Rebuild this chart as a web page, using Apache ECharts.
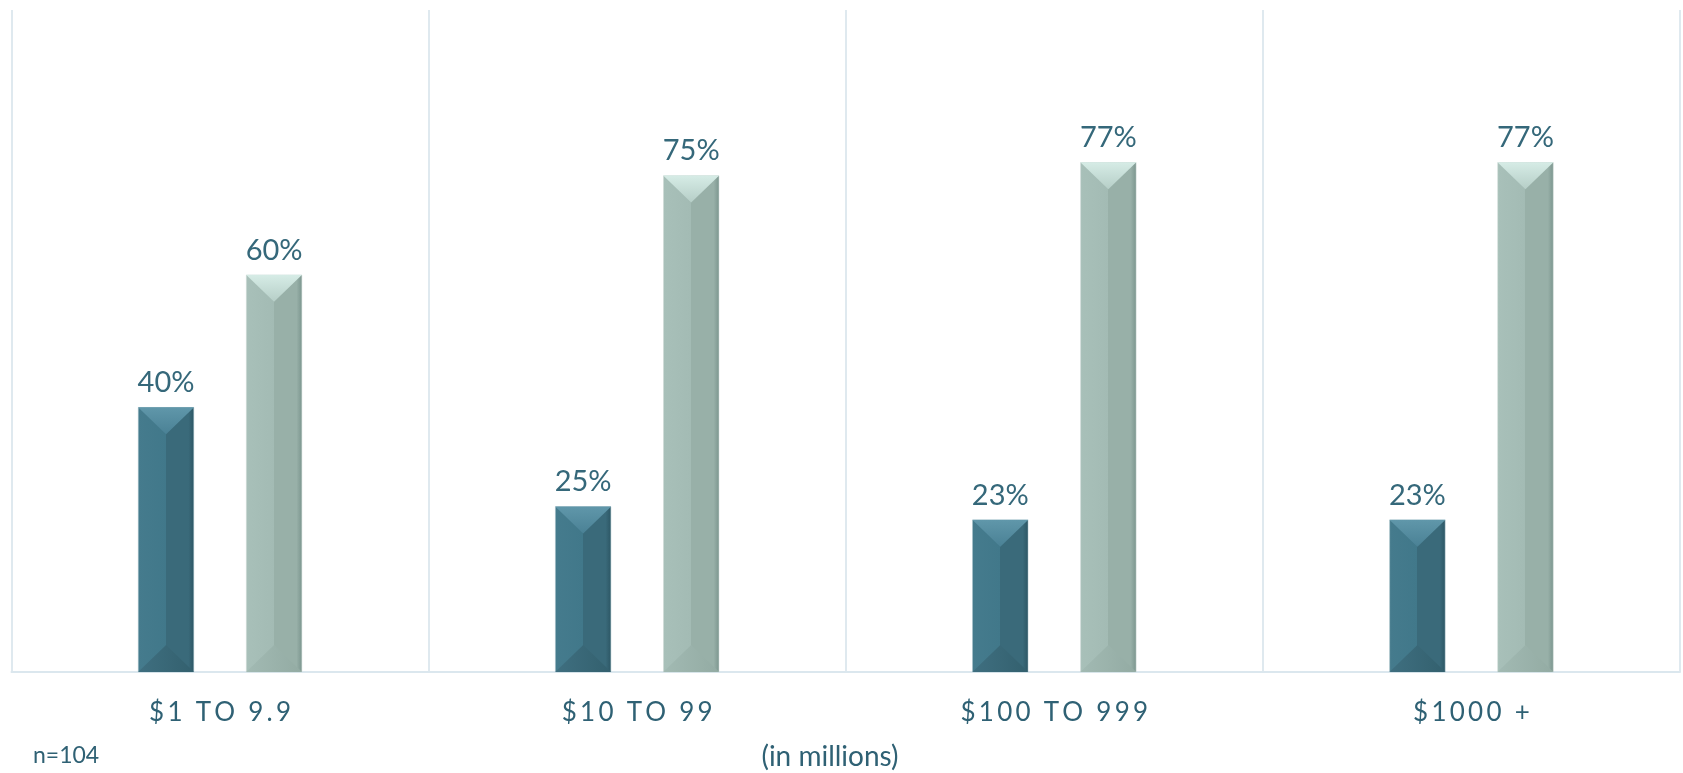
<!DOCTYPE html>
<html>
<head>
<meta charset="utf-8">
<script src="https://cdn.jsdelivr.net/npm/echarts@6/dist/echarts.min.js"></script>
<style>
  html, body { margin: 0; padding: 0; background: #fff; }
  #chart { width: 1683px; height: 773px; }
</style>
</head>
<body>
<div id="chart"></div>
<script>
// revenue bands (in millions)
const categories = ["$1 TO 9.9", "$10 TO 99", "$100 TO 999", "$1000 +"];
const darkValues = [40, 25, 23, 23];
const lightValues = [60, 75, 77, 77];
const sampleNote = "n=104";
const unitNote = "(in millions)";

const FONT = "Lato, 'Noto Sans', sans-serif";
const BAR_W = 56;
const OFFSET = 54;

const chart = echarts.init(document.getElementById("chart"));

// horizontal gradient: lighter left half, darker right half (bevel look)
function bevelFill(left, mid, right, edge) {
  return new echarts.graphic.LinearGradient(0, 0, 1, 0, [
    { offset: 0, color: left },
    { offset: 0.5, color: mid },
    { offset: 0.5, color: right },
    { offset: 0.9, color: right },
    { offset: 1, color: edge },
  ]);
}

// top and bottom bevel triangles, placed from the axis scale
function bevelSeries(values, offset, topColors, bottomColors) {
  return {
    type: "custom",
    silent: true,
    z: 5,
    data: values.map((v, i) => [i, v]),
    renderItem: (params, api) => {
      const top = api.coord([api.value(0), api.value(1)]);
      const base = api.coord([api.value(0), 0]);
      const xc = top[0] + offset;
      const l = xc - BAR_W / 2;
      const r = xc + BAR_W / 2;
      const d = Math.min(27, (base[1] - top[1]) / 2);
      return {
        type: "group",
        children: [
          {
            type: "polygon",
            shape: { points: [[l, top[1]], [r, top[1]], [xc, top[1] + d]] },
            style: {
              fill: new echarts.graphic.LinearGradient(0, 0, 0, 1, [
                { offset: 0, color: topColors[0] },
                { offset: 1, color: topColors[1] },
              ]),
            },
          },
          {
            type: "polygon",
            shape: { points: [[l, base[1]], [r, base[1]], [xc, base[1] - d]] },
            style: {
              fill: new echarts.graphic.LinearGradient(0, 0, 1, 0, [
                { offset: 0, color: bottomColors[0] },
                { offset: 1, color: bottomColors[1] },
              ]),
            },
          },
        ],
      };
    },
  };
}

const labelStyle = {
  show: true,
  position: "top",
  distance: 10,
  formatter: "{c}%",
  color: "#35687a",
  fontFamily: FONT,
  fontSize: 29,
};

chart.setOption({
  backgroundColor: "#fff",
  animation: false,
  grid: { left: 11.5, right: 3, top: 10, bottom: 101 },
  xAxis: {
    type: "category",
    data: categories,
    axisLine: { lineStyle: { color: "#dbe7ee", width: 2 } },
    axisTick: { show: false },
    splitLine: { show: true, interval: 0, lineStyle: { color: "#dfe9ef", width: 2 } },
    axisLabel: {
      margin: 28,
      color: "#2f6174",
      fontFamily: FONT,
      fontSize: 26,
      formatter: (v) => v.split("").join("\u2009"),
    },
  },
  yAxis: {
    type: "value",
    min: 0,
    max: 100,
    show: false,
    splitLine: { show: false },
  },
  series: [
    {
      type: "bar",
      data: darkValues,
      barWidth: BAR_W,
      barGap: "93%",
      itemStyle: {
        color: bevelFill("#457b8d", "#41788a", "#3a6a7a", "#2c5664"),
        borderColor: "#a9c2ca",
        borderWidth: 0.5,
      },
      label: labelStyle,
    },
    {
      type: "bar",
      data: lightValues,
      barWidth: BAR_W,
      itemStyle: {
        color: bevelFill("#a8c0b9", "#a3bbb4", "#98b0a8", "#7b958e"),
        borderColor: "#cdd9d5",
        borderWidth: 0.5,
      },
      label: labelStyle,
    },
    bevelSeries(darkValues, -OFFSET, ["#6097aa", "#4a8195"], ["#3f6f80", "#33606e"]),
    bevelSeries(lightValues, OFFSET, ["#d6ece6", "#b6cec7"], ["#a2bab3", "#93aba3"]),
  ],
  graphic: [
    {
      type: "text",
      left: 33,
      top: 744,
      style: { text: sampleNote, fill: "#2f6174", font: "23px " + FONT },
    },
    {
      type: "text",
      x: 830,
      y: 757,
      style: {
        text: unitNote,
        fill: "#2f6174",
        font: "28px " + FONT,
        align: "center",
        verticalAlign: "middle",
      },
    },
  ],
});
</script>
</body>
</html>
